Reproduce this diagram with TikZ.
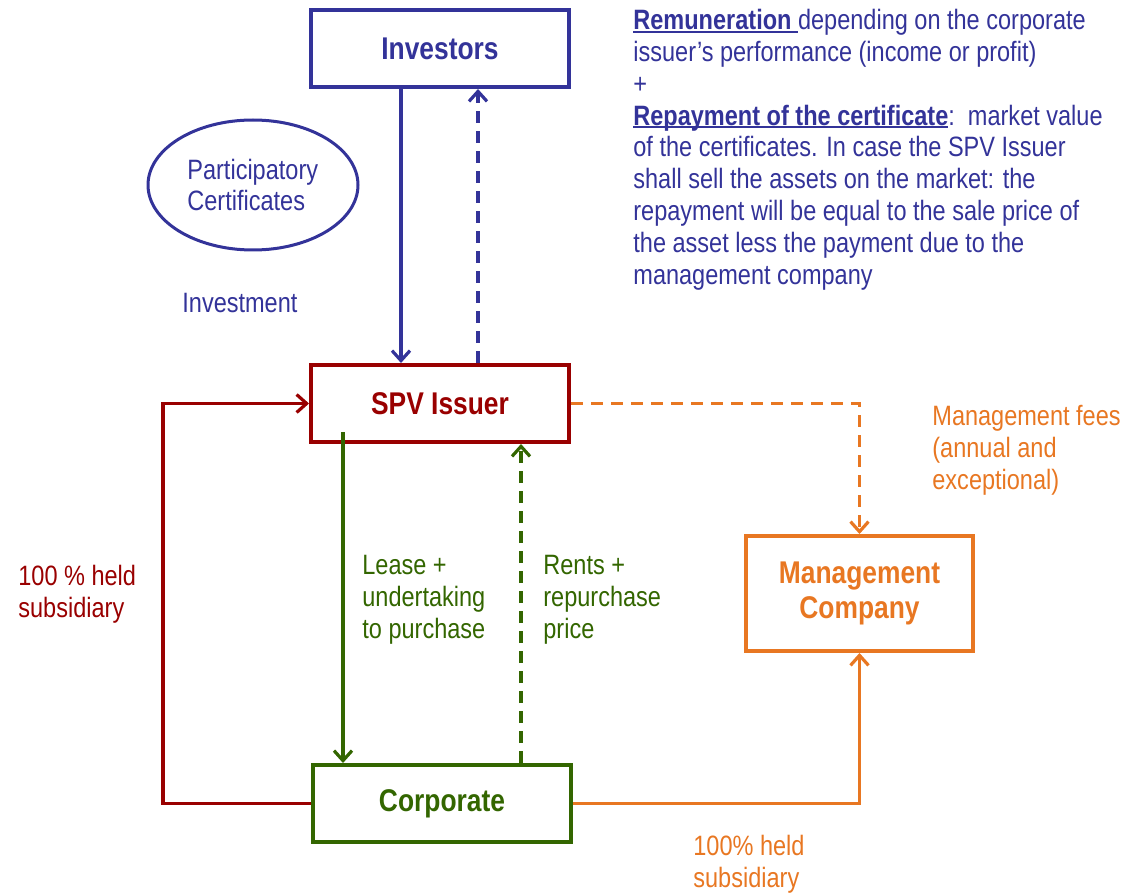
\documentclass[tikz,border=0pt]{standalone}
\usepackage{fontspec}
\setmainfont{Liberation Sans}[FakeStretch=0.84]
\usepackage{tikz}
\usetikzlibrary{arrows.meta, positioning, shapes}

\definecolor{invblue}{RGB}{51,51,153}
\definecolor{spvred}{RGB}{153,0,0}
\definecolor{corpgreen}{RGB}{51,102,0}
\definecolor{mgmtorange}{RGB}{232,119,34}

% underline sitting close to the baseline
\newsavebox{\ulsave}
\newcommand{\ulword}[1]{\sbox{\ulsave}{#1}\rlap{\rule[-1.7pt]{\wd\ulsave}{1.1pt}}\usebox{\ulsave}}

\begin{document}
\begin{tikzpicture}[x=0.5pt, y=-0.5pt,
	party/.style={draw, line width=2pt, minimum width=129pt, minimum height=38.5pt, font=\fontsize{15.7}{17.5}\selectfont\bfseries},
	note/.style={align=left, inner sep=0pt, anchor=north west, font=\fontsize{14}{15.9}\selectfont},
	link/.style={line width=1.8pt, -{Straight Barb[length=5pt, width=9pt, line width=1.6pt]}},
	flow/.style={link, dash pattern=on 6pt off 4pt}]
	\useasboundingbox (0,0) rectangle (1130,893);

	% the four parties
	\node[party, invblue] (inv) at (440,48.5) {Investors};
	\node[party, spvred] (spv) at (440,403.5) {SPV Issuer};
	\node[party, corpgreen] (corp) at (442,803.5) {Corporate};
	\node[party, mgmtorange, minimum width=113.5pt, minimum height=57.5pt, align=center] (mgmt) at (859.5,593.5) {Management\\Company};

	\node[draw, invblue, ellipse, line width=1.5pt, minimum width=105pt, minimum height=65pt] (cert) at (253,185) {};
	\node[note, invblue, anchor=west] at (187,185) {Participatory\\Certificates};

	% investors <-> spv
	\draw[link, invblue] (inv.south -| 401,0) -- (spv.north -| 401,0);
	\draw[flow, invblue] (spv.north -| 478,0) -- (inv.south -| 478,0);
	\node[note, invblue] (invest) at (182,293) {Investment};

	% spv <-> corporate
	\draw[link, corpgreen] (343,432) -- (corp.north -| 343,0);
	\draw[flow, corpgreen] (corp.north -| 521,0) -- (spv.south -| 521,0);
	\node[note, corpgreen] (lease) at (362,555) {Lease +\\undertaking\\to purchase};
	\node[note, corpgreen] (rents) at (543,555) {Rents +\\repurchase\\price};

	% ownership
	\coordinate (redturn) at (163,0);
	\draw[link, spvred] (corp.west) -- (corp.west -| redturn) -- (spv.west -| redturn) -- (spv.west);
	\node[note, spvred] (held) at (18,565) {100 \% held\\subsidiary};
	\draw[link, mgmtorange] (corp.east) -| (mgmt.south);
	\node[note, mgmtorange] (mheld) at (693,835) {100\% held\\subsidiary};

	% fees
	\draw[flow, mgmtorange] (spv.east) -| (mgmt.north);
	\node[note, mgmtorange] (fees) at (932,405) {Management fees\\(annual and\\exceptional)};

	% what the investors get back
	\node[note, invblue] (remun) at (633,9) {\ulword{\textbf{Remuneration}\ }depending on the corporate\\
		issuer's performance (income or profit)\\
		+\\
		\ulword{\textbf{Repayment of the certificate}}:\ \ market value\\
		of the certificates. In case the SPV Issuer\\
		shall sell the assets on the market: the\\
		repayment will be equal to the sale price of\\
		the asset less the payment due to the\\
		management company};
\end{tikzpicture}
\end{document}
